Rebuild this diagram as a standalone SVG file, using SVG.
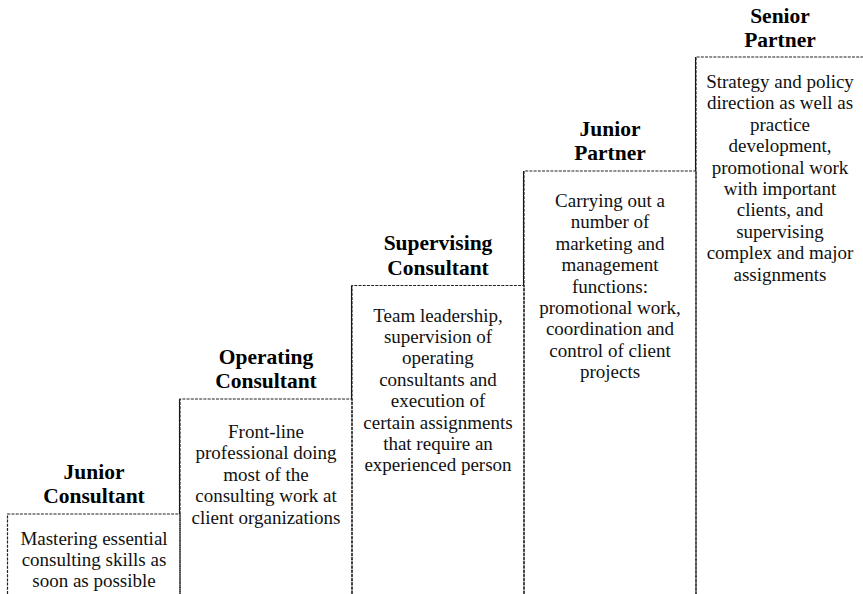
<svg xmlns="http://www.w3.org/2000/svg" width="863" height="594" viewBox="0 0 863 594">
<style>
.box{fill:none;stroke:#222;stroke-width:1.2;stroke-dasharray:3 1.2}
.riser{fill:none;stroke:#111;stroke-width:1.1}
.t{font-family:"Liberation Serif","Times New Roman",serif;font-weight:bold;font-size:21.5px;fill:#000;text-anchor:middle}
.b{font-family:"Liberation Serif","Times New Roman",serif;font-size:19px;fill:#111;text-anchor:middle}
</style>
<rect width="863" height="594" fill="#fff"/>
<g id="connectors">
<path class="riser" d="M179.5 514V399M351.5 399V285.5M523.5 285.5V171M695.5 171V57"/>
</g>
<g id="junior-consultant">
<path class="box" d="M7.5 594V514H180V594"/>
<text class="t" x="94" y="479">Junior</text>
<text class="t" x="94" y="503">Consultant</text>
<text class="b" x="94" y="545">Mastering essential</text>
<text class="b" x="94" y="566">consulting skills as</text>
<text class="b" x="94" y="587">soon as possible</text>
</g>
<g id="operating-consultant">
<path class="box" d="M180 594V399H352V594"/>
<text class="t" x="266" y="364">Operating</text>
<text class="t" x="266" y="388">Consultant</text>
<text class="b" x="266" y="438">Front-line</text>
<text class="b" x="266" y="459.4">professional doing</text>
<text class="b" x="266" y="480.8">most of the</text>
<text class="b" x="266" y="502.2">consulting work at</text>
<text class="b" x="266" y="523.6">client organizations</text>
</g>
<g id="supervising-consultant">
<path class="box" d="M352 594V285.5H524V594"/>
<text class="t" x="438" y="250">Supervising</text>
<text class="t" x="438" y="274.5">Consultant</text>
<text class="b" x="438" y="321.5">Team leadership,</text>
<text class="b" x="438" y="342.9">supervision of</text>
<text class="b" x="438" y="364.3">operating</text>
<text class="b" x="438" y="385.7">consultants and</text>
<text class="b" x="438" y="407.1">execution of</text>
<text class="b" x="438" y="428.5">certain assignments</text>
<text class="b" x="438" y="449.9">that require an</text>
<text class="b" x="438" y="471.3">experienced person</text>
</g>
<g id="junior-partner">
<path class="box" d="M524 594V171H696V594"/>
<text class="t" x="610" y="136">Junior</text>
<text class="t" x="610" y="160">Partner</text>
<text class="b" x="610" y="207">Carrying out a</text>
<text class="b" x="610" y="228.4">number of</text>
<text class="b" x="610" y="249.8">marketing and</text>
<text class="b" x="610" y="271.2">management</text>
<text class="b" x="610" y="292.6">functions:</text>
<text class="b" x="610" y="314">promotional work,</text>
<text class="b" x="610" y="335.4">coordination and</text>
<text class="b" x="610" y="356.8">control of client</text>
<text class="b" x="610" y="378.2">projects</text>
</g>
<g id="senior-partner">
<path class="box" d="M696 594V57H864"/>
<text class="t" x="780" y="23">Senior</text>
<text class="t" x="780" y="47">Partner</text>
<text class="b" x="780" y="88">Strategy and policy</text>
<text class="b" x="780" y="109.4">direction as well as</text>
<text class="b" x="780" y="130.8">practice</text>
<text class="b" x="780" y="152.2">development,</text>
<text class="b" x="780" y="173.6">promotional work</text>
<text class="b" x="780" y="195">with important</text>
<text class="b" x="780" y="216.4">clients, and</text>
<text class="b" x="780" y="237.8">supervising</text>
<text class="b" x="780" y="259.2">complex and major</text>
<text class="b" x="780" y="280.6">assignments</text>
</g>
</svg>
